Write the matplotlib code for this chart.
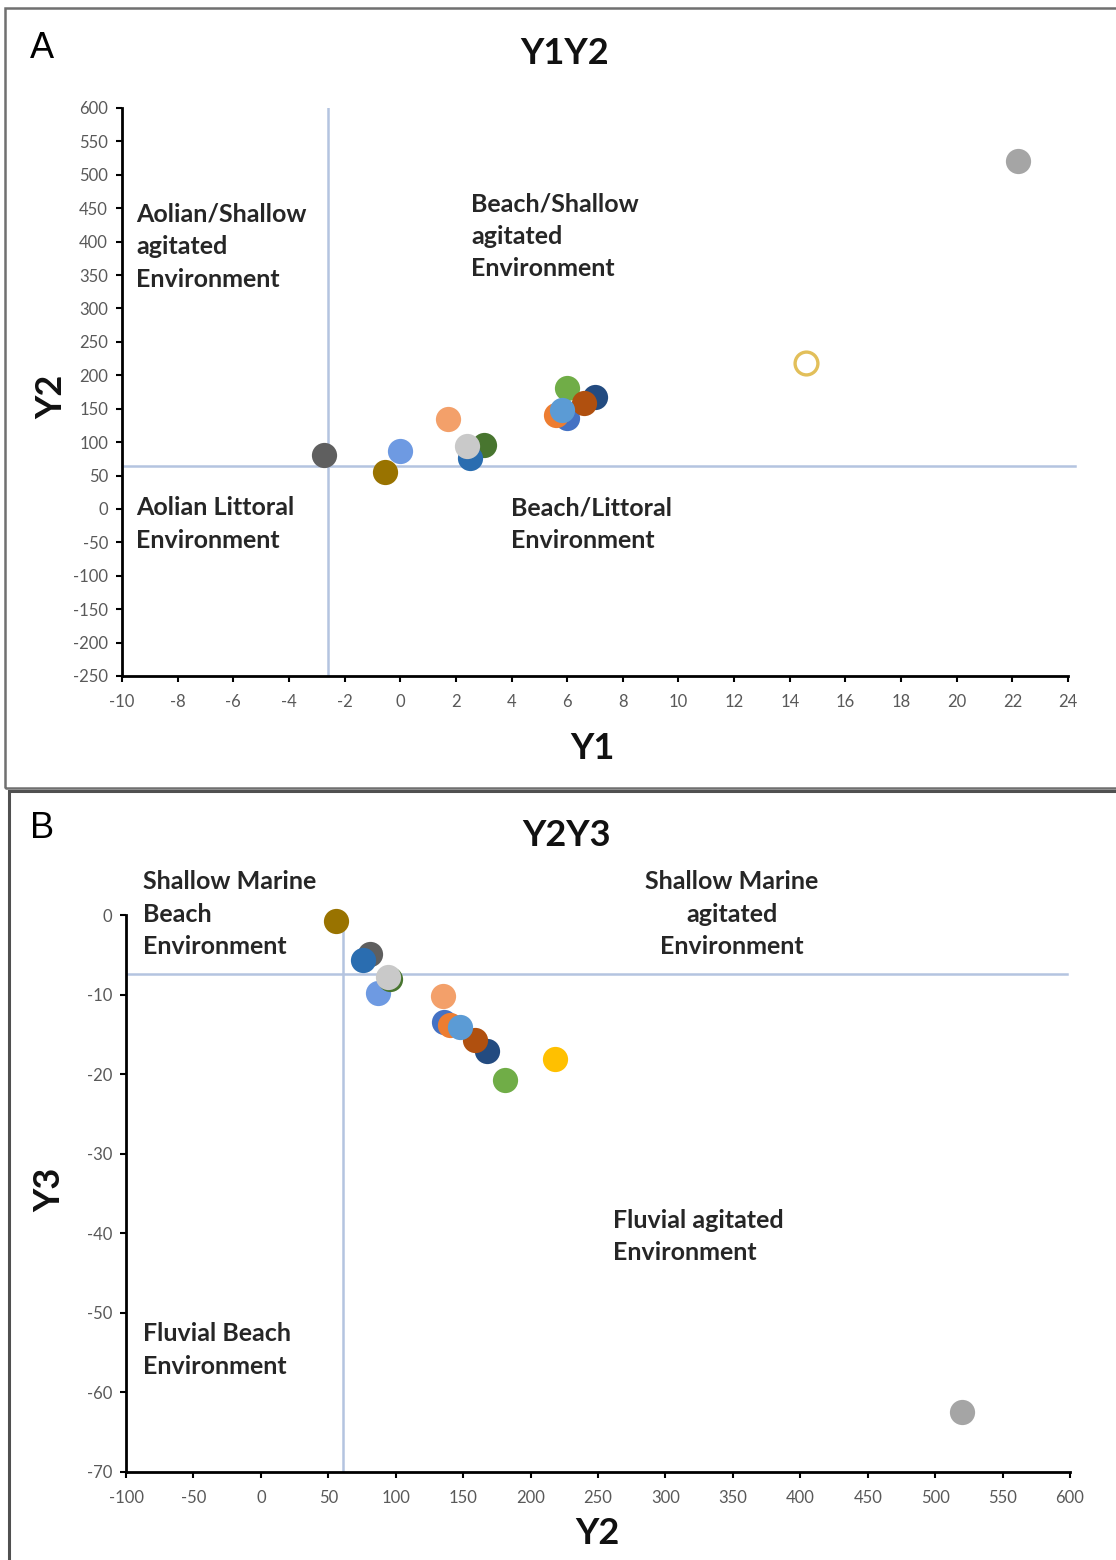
import numpy as np
import matplotlib.pyplot as plt
from matplotlib.patches import Rectangle

plt.rcParams['axes.unicode_minus'] = False
plt.rcParams['font.family'] = ['Lato', 'DejaVu Sans']

# sample values (same sample order in both panels)
colors = ['#5f5f5f', '#997300', '#6e9ae2', '#f3a06a', '#48752f', '#2a6db0',
          '#c9c9c9', '#234b80', '#4472c4', '#ed7d31', '#70ad47', '#b0500f',
          '#5b9bd5', '#ffc000', '#a5a5a5']
y1 = [-2.75, -0.55, 0.0, 1.7, 3.0, 2.5, 2.4, 7.0, 6.0, 5.6, 6.0, 6.6, 5.8, 14.6, 22.2]
y2 = [81, 56, 87, 135, 96, 76, 94, 168, 136, 140, 181, 159, 148, 218, 520]
y3 = [-4.9, -0.7, -9.8, -10.2, -8.0, -5.7, -7.8, -17.1, -13.4, -13.8, -20.7,
      -15.7, -14.1, -18.1, -62.5]
hollow_a = 13  # shown as open circle in panel A

# boundary lines
y1_cut = -2.6
y2_cut_a = 65
y2_cut_b = 61
y3_cut = -7.4

W, H = 1116, 1560
fig = plt.figure(figsize=(W / 100, H / 100), dpi=100)


def fx(x):
    return x / W


def fy(y):
    return 1 - y / H


def add_axes(l, t, r, b):
    return fig.add_axes([fx(l), fy(b), fx(r) - fx(l), fy(t) - fy(b)])


def style(ax):
    for s in ['top', 'right']:
        ax.spines[s].set_visible(False)
    for s in ['left', 'bottom']:
        ax.spines[s].set_linewidth(2)
        ax.spines[s].set_color('black')
    ax.tick_params(direction='out', length=4, width=1.5, color='black',
                   labelcolor='#595959', labelsize=12)
    ax.tick_params(axis='x', pad=9)
    ax.tick_params(axis='y', pad=6)


# panel frames
fig.add_artist(Rectangle((fx(5), fy(788)), 1.2, fy(8) - fy(788), transform=fig.transFigure,
                         fill=False, edgecolor='#707070', lw=1.8))
fig.add_artist(Rectangle((fx(9), -0.2), 1.2, fy(791) + 0.2, transform=fig.transFigure,
                         fill=False, edgecolor='#505050', lw=2.2))

# ---- panel A
axA = add_axes(122, 108, 1068, 676)
style(axA)
axA.set_xlim(-10, 24)
axA.set_ylim(-250, 600)
axA.set_xticks(np.arange(-10, 25, 2))
axA.set_yticks(np.arange(-250, 601, 50))
axA.axvline(y1_cut, color='#b4c4e0', lw=1.8, zorder=1)
axA.axhline(y2_cut_a, color='#b4c4e0', lw=1.8, zorder=1, xmax=1.007, clip_on=False)
for i in range(len(y1)):
    if i == hollow_a:
        axA.scatter(y1[i], y2[i], s=270, facecolor='white', edgecolor='#e2bf5a',
                    linewidth=2.4, zorder=3)
    else:
        axA.scatter(y1[i], y2[i], s=330, color=colors[i], linewidth=0, zorder=3)

# ---- panel B
axB = add_axes(126, 915, 1070, 1472)
style(axB)
axB.set_xlim(-100, 600)
axB.set_ylim(-70, 0)
axB.set_xticks(np.arange(-100, 601, 50))
axB.set_yticks(np.arange(-70, 1, 10))
axB.axvline(y2_cut_b, color='#b4c4e0', lw=1.8, zorder=1)
axB.axhline(y3_cut, color='#b4c4e0', lw=1.8, zorder=1, xmax=0.997)
for i in range(len(y2)):
    axB.scatter(y2[i], y3[i], s=330, color=colors[i], linewidth=0, zorder=3,
                clip_on=False)

# titles, labels, panel letters
big = dict(fontsize=26, fontweight='bold', color='#111111', ha='center', va='center')
fig.text(fx(565), fy(54), 'Y1Y2', **big)
fig.text(fx(592), fy(748), 'Y1', **big)
fig.text(fx(52), fy(397), 'Y2', rotation=90, **big)
fig.text(fx(567), fy(836), 'Y2Y3', **big)
fig.text(fx(597), fy(1533), 'Y2', **big)
fig.text(fx(50), fy(1190), 'Y3', rotation=90, **big)

letter = dict(fontsize=26, family='Liberation Sans', color='black', ha='center', va='center')
fig.text(fx(42), fy(48), 'A', **letter)
fig.text(fx(42), fy(828), 'B', **letter)

note = dict(fontsize=18, fontweight='bold', color='#262626', va='top', linespacing=1.5)
fig.text(fx(136), fy(203), 'Aolian/Shallow\nagitated\nEnvironment', **note)
fig.text(fx(471), fy(192), 'Beach/Shallow\nagitated\nEnvironment', **note)
fig.text(fx(136), fy(496), 'Aolian Littoral\nEnvironment', **note)
fig.text(fx(511), fy(496), 'Beach/Littoral\nEnvironment', **note)
fig.text(fx(143), fy(870), 'Shallow Marine\nBeach\nEnvironment', **note)
fig.text(fx(732), fy(870), 'Shallow Marine\nagitated\nEnvironment', ha='center',
         multialignment='center', **note)
fig.text(fx(613), fy(1209), 'Fluvial agitated\nEnvironment', **note)
fig.text(fx(143), fy(1322), 'Fluvial Beach\nEnvironment', **note)

fig.savefig('out.png', dpi=100)
